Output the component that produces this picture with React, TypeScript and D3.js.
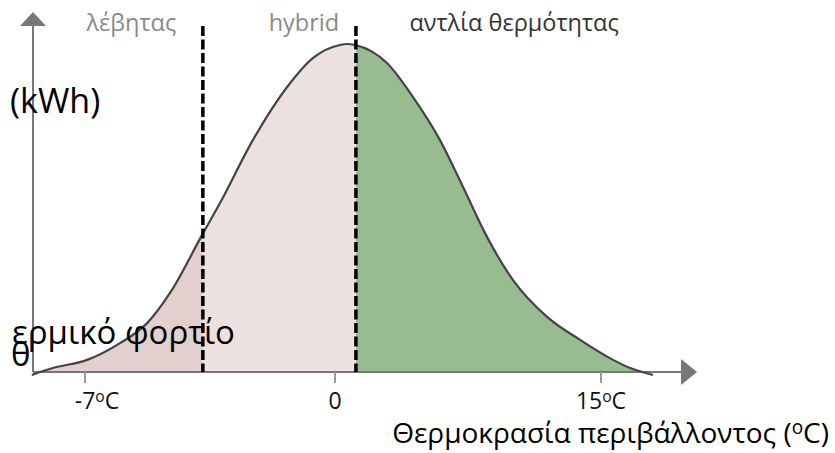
import React from 'react';
import { scaleLinear, line, area, curveMonotoneX } from 'd3';

const width = 835;
const height = 453;

// curve: outdoor temperature (°C) vs heating load (relative, peak = 100)
const temps = [-8.49, -7.9, -6.94, -6.02, -5.26, -4.62, -3.72, -3.22, -2.3, -1.34, -0.62, 0.28, 0.68, 1.13, 2.93, 4.4, 5.92, 7.22, 8.57, 10.04, 11.96, 13.82, 15.68, 16.64, 17.93];
const loads = [-0.9, 1.2, 3.7, 8.8, 14.9, 24.1, 41.8, 51.5, 70.7, 86.9, 95.7, 99.7, 100, 99.7, 94.2, 83.8, 70.7, 56.4, 41.2, 28.0, 16.8, 9.8, 3.7, 1.2, -0.9];

// zones and their boundaries (°C)
const zoneNames = ['λέβητας', 'hybrid', 'αντλία θερμότητας'];
const zoneBounds = [-8.46, -3.7, 1.18, 18.5];
const zoneLabelTemps = [-5.7, -0.87, 10.1];
const dividers = [-3.7, 1.18];

// x ticks
const tickValues = [-7, 0, 15];
const tickLabels = ['-7°C', '0', '15°C'];

const xAxisLabel = 'Θερμοκρασία περιβάλλοντος (°C)';
const yAxisLabelParts = ['(kWh)', 'ερμικό φορτίο', 'θ'];

const zoneFills = ['#e1d0cd', '#ede1df', '#98bb91'];
const zoneLabelColors = ['#8a8a8a', '#8a8a8a', '#333333'];
const font = '"Open Sans", sans-serif';

// the axis is not evenly spaced in the original, so use a piecewise scale
const xScale = scaleLinear().domain([-7, 0, 15]).range([85, 335, 601]);
const yScale = scaleLinear().domain([0, 100]).range([372, 44]);

const axisColor = '#777777';
const axisLeftX = 33;
const axisRightX = 697;
const axisTopY = 12;

const DegreeText = ({ label, ...rest }) => {
  const parts = label.split('°');
  return (
    <text {...rest}>
      {parts[0]}
      {parts.length > 1 && (
        <>
          <tspan fontSize="0.68em" dy="-0.45em">o</tspan>
          <tspan dy="0.3em">{parts[1]}</tspan>
        </>
      )}
    </text>
  );
};

const App = () => {
  const data = temps.map((t, i) => ({ t, v: loads[i] }));
  const baseY = yScale(0);

  const curve = line()
    .x(d => xScale(d.t))
    .y(d => yScale(d.v))
    .curve(curveMonotoneX)(data);

  const fillArea = area()
    .x(d => xScale(d.t))
    .y0(baseY)
    .y1(d => Math.min(baseY, yScale(d.v)))
    .curve(curveMonotoneX)(data);

  return (
    <svg width={width} height={height} style={{ position: 'absolute', left: 0, top: 0, background: '#fff' }}>
      <defs>
        {zoneNames.map((z, i) => (
          <clipPath key={z} id={`zone-${i}`}>
            <rect
              x={xScale(zoneBounds[i])}
              y={0}
              width={xScale(zoneBounds[i + 1]) - xScale(zoneBounds[i])}
              height={baseY}
            />
          </clipPath>
        ))}
      </defs>

      {/* filled zones under the curve */}
      {zoneNames.map((z, i) => (
        <path key={z} d={fillArea} fill={zoneFills[i]} clipPath={`url(#zone-${i})`} />
      ))}

      {/* axes */}
      <line x1={axisLeftX} y1={baseY} x2={axisLeftX} y2={axisTopY + 12} stroke={axisColor} strokeWidth={2} />
      <path d={`M${axisLeftX},${axisTopY} L${axisLeftX + 13},${axisTopY + 14} L${axisLeftX - 13},${axisTopY + 14} Z`} fill={axisColor} />
      <line x1={axisLeftX} y1={baseY} x2={axisRightX - 14} y2={baseY} stroke={axisColor} strokeWidth={2} />
      <path d={`M${axisRightX},${baseY} L${axisRightX - 16},${baseY - 13} L${axisRightX - 16},${baseY + 13} Z`} fill={axisColor} />

      {tickValues.map((t, i) => (
        <g key={t} transform={`translate(${xScale(t)},0)`}>
          <line y1={baseY} y2={baseY + 11} stroke="#999" strokeWidth={2} />
          <DegreeText
            label={tickLabels[i]}
            x={t < 0 ? 12 : 0}
            y={409}
            textAnchor="middle"
            fontFamily={font}
            fontSize={23}
            fill="#111"
          />
        </g>
      ))}

      {/* curve */}
      <path d={curve} fill="none" stroke="#444" strokeWidth={2.2} />

      {/* zone dividers */}
      {dividers.map(d => (
        <line
          key={d}
          x1={xScale(d)}
          x2={xScale(d)}
          y1={26}
          y2={baseY}
          stroke="#000"
          strokeWidth={3.5}
          strokeDasharray="10 3.5"
        />
      ))}

      {/* zone labels */}
      {zoneNames.map((z, i) => (
        <text
          key={z}
          x={xScale(zoneLabelTemps[i])}
          y={31}
          textAnchor="middle"
          fontFamily={font}
          fontSize={23.5}
          fill={zoneLabelColors[i]}
        >
          {z}
        </text>
      ))}

      {/* y label, broken as in the original */}
      <text x={10} y={113} fontFamily={font} fontSize={34} fill="#000">{yAxisLabelParts[0]}</text>
      <text x={12} y={344} fontFamily={font} fontSize={33} fill="#000">{yAxisLabelParts[1]}</text>
      <text x={11} y={366} fontFamily={font} fontSize={33} fill="#000">{yAxisLabelParts[2]}</text>

      <DegreeText
        label={xAxisLabel}
        x={829}
        y={443}
        textAnchor="end"
        fontFamily={font}
        fontSize={28}
        fill="#000"
      />
    </svg>
  );
};

export default App;
